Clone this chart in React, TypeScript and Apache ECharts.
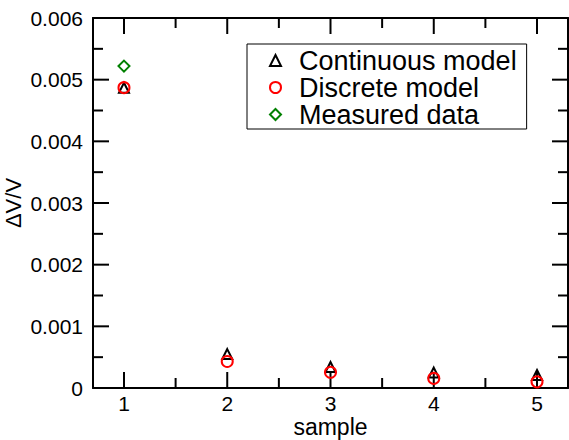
import React, { useEffect, useRef } from "react";
import * as echarts from "echarts";

const samples = [1, 2, 3, 4, 5];
const continuousModel = [0.00487, 0.00055, 0.00034, 0.00025, 0.00021];
const discreteModel = [0.00487, 0.00043, 0.000255, 0.000155, 0.0001];
const measuredData = [0.00522];
const xMajorTicks = [1, 2, 3, 4, 5];
const xMinorTicks = [1.5, 2.5, 3.5, 4.5];
const yMajorTicks = [0, 0.001, 0.002, 0.003, 0.004, 0.005, 0.006];
const yMinorTicks = [0.0005, 0.0015, 0.0025, 0.0035, 0.0045, 0.0055];

const X_MIN = 0.7;
const X_MAX = 5.3;
const Y_MIN = 0;
const Y_MAX = 0.006;
const FONT = "Liberation Sans, Arial, Helvetica, sans-serif";
const MAJOR = 16;
const MINOR = 10;

function tickSeries(name: string, points: number[][], size: number[], offset: number[]) {
  return {
    name,
    type: "scatter",
    silent: true,
    clip: false,
    z: 1,
    symbol: "rect",
    symbolSize: size,
    symbolOffset: offset,
    itemStyle: { color: "#000", opacity: 1 },
    emphasis: { disabled: true },
    data: points,
  };
}

export default function App() {
  const ref = useRef<HTMLDivElement>(null);
  useEffect(() => {
    if (!ref.current) return;
    const chart = echarts.init(ref.current, undefined, { renderer: "svg" });
    const axisLine = { show: true, onZero: false, lineStyle: { color: "#000", width: 2 } };
    chart.setOption({
      animation: false,
      backgroundColor: "#fff",
      textStyle: { fontFamily: FONT },
      grid: { left: 93, top: 18, right: 1, bottom: 52, containLabel: false, outerBoundsMode: "none" },
      legend: {
        orient: "vertical",
        left: 247,
        top: 44,
        borderColor: "#000",
        borderWidth: 1,
        borderRadius: 0,
        padding: [3, 10, 1, 22],
        itemGap: 0,
        itemWidth: 11,
        itemHeight: 11,
        textStyle: { fontSize: 27, color: "#000", fontFamily: FONT, lineHeight: 27, padding: [0, 0, 0, 13] },
        data: ["Continuous model", "Discrete model", "Measured data"],
      },
      xAxis: [
        {
          type: "value",
          min: X_MIN,
          max: X_MAX,
          position: "bottom",
          name: "sample",
          nameLocation: "middle",
          nameGap: 27,
          nameMoveOverlap: false,
          nameTextStyle: { fontSize: 23, color: "#000", fontFamily: FONT },
          axisLine,
          splitLine: { show: false },
          axisTick: { show: false },
          axisLabel: { show: true, fontSize: 21, color: "#000", margin: 5, customValues: xMajorTicks, fontFamily: FONT },
        },
        {
          type: "value",
          min: X_MIN,
          max: X_MAX,
          position: "top",
          axisLine,
          splitLine: { show: false },
          axisTick: { show: false },
          axisLabel: { show: false },
        },
      ],
      yAxis: [
        {
          type: "value",
          min: Y_MIN,
          max: Y_MAX,
          interval: 0.001,
          position: "left",
          name: "ΔV/V",
          nameLocation: "middle",
          nameGap: 69,
          nameMoveOverlap: false,
          nameRotate: 90,
          nameTextStyle: { fontSize: 22, color: "#000", fontFamily: FONT },
          axisLine,
          splitLine: { show: false },
          axisTick: { show: false },
          axisLabel: {
            fontSize: 21,
            color: "#000",
            margin: 10,
            fontFamily: FONT,
            formatter: (v: number) => (v === 0 ? "0" : v.toFixed(3)),
          },
        },
        {
          type: "value",
          min: Y_MIN,
          max: Y_MAX,
          interval: 0.001,
          position: "right",
          axisLine,
          splitLine: { show: false },
          axisTick: { show: false },
          axisLabel: { show: false },
        },
      ],
      series: [
        tickSeries("xb-major", xMajorTicks.map((v) => [v, Y_MIN]), [2, MAJOR], [0, -MAJOR / 2]),
        tickSeries("xb-minor", xMinorTicks.map((v) => [v, Y_MIN]), [2, MINOR], [0, -MINOR / 2]),
        tickSeries("xt-major", xMajorTicks.map((v) => [v, Y_MAX]), [2, MAJOR], [0, MAJOR / 2]),
        tickSeries("xt-minor", xMinorTicks.map((v) => [v, Y_MAX]), [2, MINOR], [0, MINOR / 2]),
        tickSeries("yl-major", yMajorTicks.map((v) => [X_MIN, v]), [MAJOR, 2], [MAJOR / 2, 0]),
        tickSeries("yl-minor", yMinorTicks.map((v) => [X_MIN, v]), [MINOR, 2], [MINOR / 2, 0]),
        tickSeries("yr-major", yMajorTicks.map((v) => [X_MAX, v]), [MAJOR, 2], [-MAJOR / 2, 0]),
        tickSeries("yr-minor", yMinorTicks.map((v) => [X_MAX, v]), [MINOR, 2], [-MINOR / 2, 0]),
        {
          name: "Continuous model",
          type: "scatter",
          symbol: "triangle",
          symbolSize: 10,
          z: 3,
          itemStyle: { color: "rgba(255,255,255,0)", borderColor: "#000", borderWidth: 2, opacity: 1 },
          data: samples.map((s, i) => [s, continuousModel[i]]),
        },
        {
          name: "Discrete model",
          type: "scatter",
          symbol: "circle",
          symbolSize: 11,
          z: 3,
          itemStyle: { color: "rgba(255,255,255,0)", borderColor: "#ff0000", borderWidth: 2, opacity: 1 },
          data: samples.map((s, i) => [s, discreteModel[i]]),
        },
        {
          name: "Measured data",
          type: "scatter",
          symbol: "diamond",
          symbolSize: 11,
          z: 3,
          itemStyle: { color: "rgba(255,255,255,0)", borderColor: "#008000", borderWidth: 2, opacity: 1 },
          data: measuredData.map((v, i) => [samples[i], v]),
        },
      ],
    });
    return () => chart.dispose();
  }, []);
  return <div ref={ref} style={{ width: 569, height: 440, position: "absolute", left: 0, top: 0 }} />;
}
